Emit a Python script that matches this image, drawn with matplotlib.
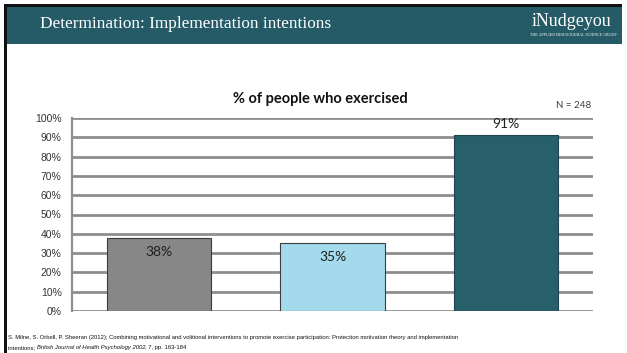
import matplotlib
matplotlib.use("Agg")
import matplotlib.pyplot as plt
from matplotlib.patches import Rectangle

# Chart data
categories = ["Control", "Motivation", "Implementation intentions"]
values = [38, 35, 91]
value_labels = ["38%", "35%", "91%"]
bar_colors = ["#878787", "#a3daec", "#275f6b"]
edge_colors = ["#3c3c3c", "#3c3c3c", "#1c444d"]
y_ticks = [0, 10, 20, 30, 40, 50, 60, 70, 80, 90, 100]
y_tick_labels = [f"{t}%" for t in y_ticks]

header_title = "Determination: Implementation intentions"
chart_title = "% of people who exercised"
sample_note = "N = 248"
brand = "iNudgeyou"
brand_sub = "THE APPLIED BEHAVIOURAL SCIENCE GROUP"
cite_line1 = ("S. Milne, S. Orbell, P. Sheeran (2012); Combining motivational and volitional "
              "interventions to promote exercise participation: Protection motivation theory "
              "and implementation")
cite_line2_a = "intentions; "
cite_line2_b = "British Journal of Health Psychology 2002"
cite_line2_c = ", 7, pp. 163-184"

W, H = 627, 353
fig = plt.figure(figsize=(W / 100, H / 100), dpi=100)
fig.patch.set_facecolor("white")


def fx(px):
    return px / W


def fy(py):
    return 1 - py / H


def frect(x0, y0, x1, y1, color):
    fig.add_artist(Rectangle((fx(x0), fy(y1)), fx(x1) - fx(x0), fy(y0) - fy(y1),
                             transform=fig.transFigure, facecolor=color,
                             edgecolor="none", zorder=0))


# Slide frame and header band
frect(7, 7, 622, 44, "#245b67")
frect(4, 4, 622, 7, "#111111")
frect(4, 4, 7, 353, "#111111")

fig.text(fx(40), fy(24), header_title, color="white", fontsize=12.4,
         family="Liberation Serif", ha="left", va="center")
fig.text(fx(572), fy(22), brand, color="white", fontsize=13,
         family="Liberation Serif", ha="center", va="center")
fig.text(fx(573), fy(35), brand_sub, color="white", fontsize=2.9,
         family="Liberation Serif", ha="center", va="center")

# Bar chart
ax = fig.add_axes([fx(72), fy(311), fx(593) - fx(72), fy(118) - fy(311)])
x = list(range(len(categories)))
bars = ax.bar(x, values, width=0.6, color=bar_colors, edgecolor=edge_colors,
              linewidth=0.8, zorder=3)

ax.set_xlim(-0.5, len(categories) - 0.5)
ax.set_ylim(0, 100)
ax.set_yticks(y_ticks)
ax.set_yticklabels(y_tick_labels, family="Liberation Sans", fontsize=7.5, color="#333333")
ax.set_xticks([])
ax.tick_params(axis="y", length=0, pad=7.5)
ax.yaxis.grid(True, color="#8e8e8e", linewidth=2.0, zorder=0)
ax.set_axisbelow(True)
for side in ("top", "right", "bottom"):
    ax.spines[side].set_visible(False)
ax.spines["left"].set_color("#8e8e8e")
ax.spines["left"].set_linewidth(1.6)
ax.set_facecolor("none")

for xi, v, lab in zip(x, values, value_labels):
    offset = 8.5 if v > 80 else -10
    ax.annotate(lab, xy=(xi, v), xytext=(0, offset), textcoords="offset points",
                ha="center", va="center", family="Lato", fontsize=10,
                color="#1f1f1f", zorder=4)

fig.text(fx(320), fy(99), chart_title, family="Lato", fontweight="bold",
         fontsize=10.5, ha="center", va="center", color="#111111")
fig.text(fx(591), fy(105), sample_note, family="Lato", fontsize=7,
         ha="right", va="center", color="#404040")

# Reference line at the foot of the slide
cite_kw = dict(family="Liberation Sans", fontsize=4.2, ha="left", va="baseline",
               color="#111111")
c1 = fig.text(fx(8), fy(339), cite_line1, **cite_kw)
c2a = fig.text(fx(8), fy(349.5), cite_line2_a, **cite_kw)
c2b = fig.text(fx(8), fy(349.5), cite_line2_b, style="italic", **cite_kw)
c2c = fig.text(fx(8), fy(349.5), cite_line2_c, **cite_kw)

fig.canvas.draw()
r = fig.canvas.get_renderer()
bb = c2a.get_window_extent(r)
c2b.set_x(bb.x1 / W)
fig.canvas.draw()
bb = c2b.get_window_extent(r)
c2c.set_x(bb.x1 / W)

fig.savefig("out.png", dpi=100)
